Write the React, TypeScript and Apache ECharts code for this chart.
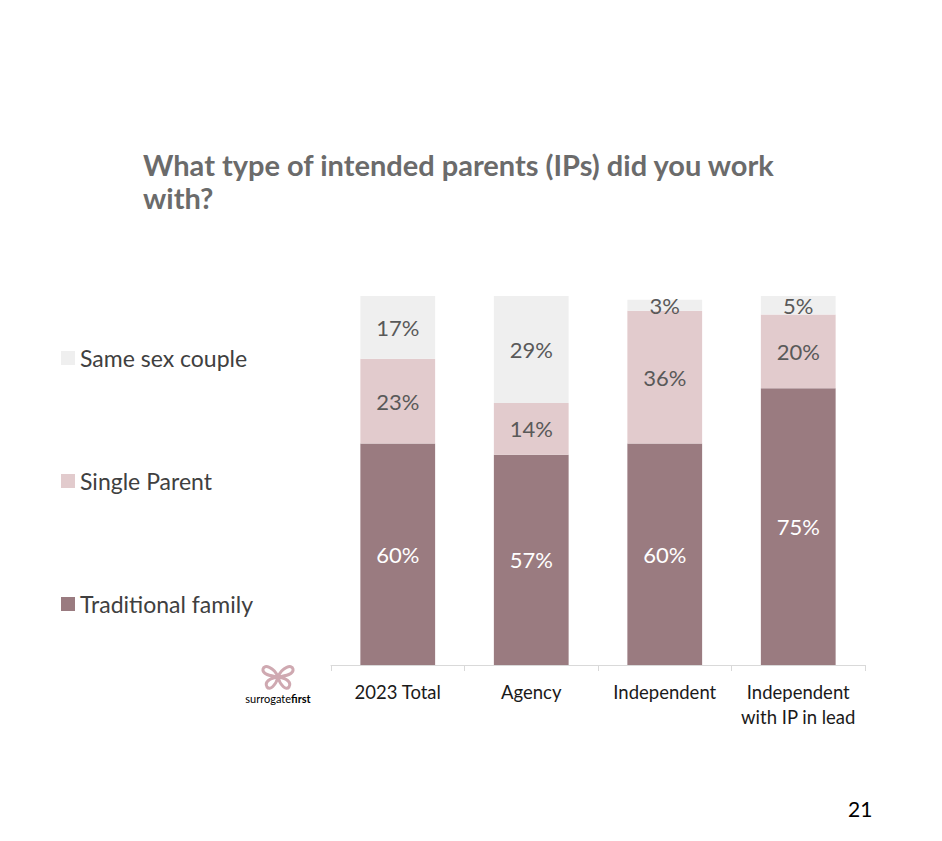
import React, { useEffect, useRef } from "react";
import * as echarts from "echarts";

const categories = ["2023 Total", "Agency", "Independent", "Independent\nwith IP in lead"];
const traditionalFamily = [60, 57, 60, 75];
const singleParent = [23, 14, 36, 20];
const sameSexCouple = [17, 29, 3, 5];
const legendOrder = ["Same sex couple", "Single Parent", "Traditional family"];

const FONT = "Lato, 'Open Sans', sans-serif";

// butterfly mark of the surrogatefirst logo, drawn in a 34x26 box
const butterflyPath =
  "M17 13 C13 3 3 0 2 5 C1 10 9 12 17 13 C9 14 3 18 6 23 C9 27 15 21 17 13 Z " +
  "M17 13 C21 3 31 0 32 5 C33 10 25 12 17 13 C25 14 31 18 28 23 C25 27 19 21 17 13 Z";
echarts.graphic.registerShape("logo", echarts.graphic.extendPath(butterflyPath as any, {}) as any);

export default function App() {
  const ref = useRef<HTMLDivElement>(null);

  useEffect(() => {
    if (!ref.current) return;
    const chart = echarts.init(ref.current, undefined, { renderer: "svg" });

    const innerLabel = (color: string) => ({
      show: true,
      position: "inside" as const,
      formatter: "{c}%",
      color,
      fontSize: 22,
      fontFamily: FONT,
    });

    chart.setOption({
      animation: false,
      backgroundColor: "#ffffff",
      title: {
        text: "What type of intended parents (IPs) did you work\nwith?",
        left: 143,
        top: 148,
        padding: 0,
        textStyle: {
          fontFamily: FONT,
          fontSize: 29,
          fontWeight: "bold",
          color: "#6b6b6b",
          lineHeight: 33,
        },
      },
      legend: {
        data: legendOrder,
        orient: "vertical",
        left: 61,
        top: 345,
        padding: 0,
        itemWidth: 14,
        itemHeight: 14,
        itemGap: 97,
        icon: "rect",
        selectedMode: false,
        textStyle: {
          fontFamily: FONT,
          fontSize: 23,
          color: "#404040",
          lineHeight: 26,
        },
      },
      grid: { left: 331, right: 77, top: 296, bottom: 176, containLabel: false },
      xAxis: {
        type: "category",
        data: categories,
        axisLine: { lineStyle: { color: "#d9d9d9", width: 1 } },
        axisTick: { show: true, length: 6, lineStyle: { color: "#d9d9d9" } },
        axisLabel: {
          fontFamily: FONT,
          fontSize: 18.5,
          color: "#1a1a1a",
          lineHeight: 25,
          margin: 14,
          interval: 0,
        },
      },
      yAxis: {
        type: "value",
        min: 0,
        max: 100,
        show: false,
        splitLine: { show: false },
      },
      series: [
        {
          name: "Traditional family",
          type: "bar",
          stack: "ips",
          barWidth: "56%",
          data: traditionalFamily,
          itemStyle: { color: "#9a7b80" },
          label: innerLabel("#ffffff"),
        },
        {
          name: "Single Parent",
          type: "bar",
          stack: "ips",
          data: singleParent,
          itemStyle: { color: "#e2cbcd" },
          label: innerLabel("#595959"),
        },
        {
          name: "Same sex couple",
          type: "bar",
          stack: "ips",
          data: sameSexCouple,
          itemStyle: { color: "#efefef" },
          label: innerLabel("#595959"),
        },
      ],
      graphic: [
        {
          type: "logo",
          x: 261,
          y: 664,
          style: { fill: "none", stroke: "#cfa9b1", lineWidth: 3 },
        },
        {
          type: "text",
          x: 278,
          y: 693,
          style: {
            text: "{a|surrogate}{b|first}",
            align: "center",
            rich: {
              a: { fontFamily: FONT, fontSize: 11, color: "#e3c8cd" },
              b: { fontFamily: FONT, fontSize: 11, fontWeight: "bold", color: "#d9b7be" },
            },
          },
        },
        {
          type: "text",
          x: 848,
          y: 798,
          style: {
            text: "21",
            fontFamily: FONT,
            fontSize: 21,
            fill: "#000000",
          },
        },
      ],
    });

    return () => chart.dispose();
  }, []);

  return (
    <div
      ref={ref}
      style={{ position: "absolute", left: 0, top: 0, width: 942, height: 841 }}
    />
  );
}
